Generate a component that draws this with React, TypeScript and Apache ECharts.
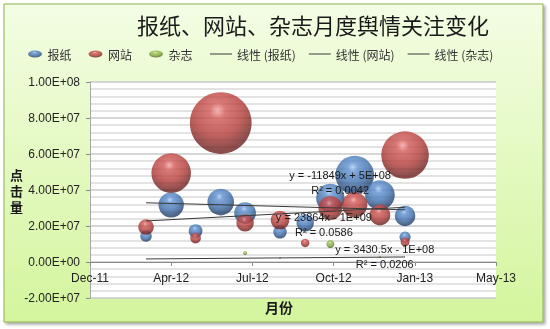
import React, { useEffect, useRef } from 'react';
import * as echarts from 'echarts';

const chartTitle = '报纸、网站、杂志月度舆情关注变化';
const seriesNames = ['报纸', '网站', '杂志'];
const trendNames = ['线性 (报纸)', '线性 (网站)', '线性 (杂志)'];
const xAxisName = '月份';
const yAxisName = '点击量';

// bubble dates and values (value also drives bubble width, as in the source)
const newspaperDates = ['2012-03-01', '2012-04-01', '2012-05-01', '2012-06-01', '2012-07-01', '2012-08-13', '2012-09-13', '2012-10-14', '2012-11-13', '2012-12-14', '2013-01-14', '2013-01-14'];
const newspaperValues = [14.4e6, 31.7e6, 17.2e6, 33.3e6, 27.2e6, 16.7e6, 21.7e6, 35.6e6, 48.3e6, 37.2e6, 25.6e6, 13.9e6];
const websiteDates = ['2012-03-01', '2012-04-01', '2012-05-01', '2012-06-01', '2012-07-01', '2012-08-13', '2012-09-13', '2012-10-14', '2012-11-13', '2012-12-14', '2013-01-14', '2013-01-14'];
const websiteValues = [19.4e6, 49.4e6, 13.3e6, 77.2e6, 21.7e6, 23.3e6, 10.6e6, 30.0e6, 31.7e6, 26.1e6, 59.4e6, 11.1e6];
const magazineDates = ['2012-07-01', '2012-08-13', '2012-10-14', '2012-12-14'];
const magazineValues = [5.0e6, 2.2e6, 10.0e6, 2.8e6];

// linear trend lines: values at first and last date
const trendDates = ['2012-03-01', '2013-01-14'];
const newspaperTrend = [32.9e6, 29.0e6];
const websiteTrend = [22.8e6, 30.4e6];
const magazineTrend = [1.7e6, 2.8e6];
const trendEquations = ['y = -11849x + 5E+08', 'y = 23864x - 1E+09', 'y = 3430.5x - 1E+08'];
const trendR2 = ['R² = 0.0042', 'R² = 0.0586', 'R² = 0.0206'];
const trendLabelDates = ['2012-10-26', '2012-10-06', '2012-12-20'];
const trendLabelValues = [44.2e6, 21.1e6, 3.06e6];

// axes (x in Excel date serials)
const xMin = 40900;
const xMax = 41400;
const xInterval = 100;
const yMin = -2e7;
const yMax = 1e8;
const yInterval = 2e7;
const monthNames = ['Jan', 'Feb', 'Mar', 'Apr', 'May', 'Jun', 'Jul', 'Aug', 'Sep', 'Oct', 'Nov', 'Dec'];

const EPOCH = Date.UTC(1899, 11, 30);
const toSerial = (s: string) => {
  const [y, m, d] = s.split('-').map(Number);
  return Math.round((Date.UTC(y, m - 1, d) - EPOCH) / 86400000);
};
const fmtMonth = (v: number) => {
  const dt = new Date(EPOCH + v * 86400000);
  return monthNames[dt.getUTCMonth()] + '-' + String(dt.getUTCFullYear() % 100).padStart(2, '0');
};
const sci = (v: number) => {
  if (v === 0) return '0.00E+00';
  const [m, e] = v.toExponential(2).split('e');
  const n = Number(e);
  return m + 'E' + (n < 0 ? '-' : '+') + String(Math.abs(n)).padStart(2, '0');
};

const ball = (hi: string, mid: string, base: string, dark: string) => ({
  type: 'radial', x: 0.45, y: 0.3, r: 0.72,
  colorStops: [
    { offset: 0, color: hi },
    { offset: 0.18, color: mid },
    { offset: 0.55, color: base },
    { offset: 0.88, color: dark },
    { offset: 1, color: dark },
  ],
});

const palette = [
  ball('#a9cdf5', '#5f90cf', '#3f70ad', '#223f69'),
  ball('#f3a3a1', '#d05855', '#b43c39', '#6e2220'),
  ball('#dcefa8', '#a2c35e', '#86a843', '#546f24'),
];

const toPoints = (dates: string[], values: number[]) =>
  dates.map((d, i) => [toSerial(d), values[i]]).sort((a, b) => b[1] - a[1]);

const GRID_TOP = 82;
const GRID_BOTTOM = 31;
const CHART_H = 329;

const App: React.FC = () => {
  const ref = useRef<HTMLDivElement>(null);
  useEffect(() => {
    if (!ref.current) return;
    const chart = echarts.init(ref.current, undefined, { renderer: 'svg' });
    const bubbleData = [
      toPoints(newspaperDates, newspaperValues),
      toPoints(websiteDates, websiteValues),
      toPoints(magazineDates, magazineValues),
    ];
    const trends = [newspaperTrend, websiteTrend, magazineTrend];
    const textFont = '"Liberation Sans", Arial, sans-serif';
    const cjkFont = '"Noto Sans CJK SC", "Liberation Sans", sans-serif';
    // place the x axis on y = 0 (Excel crosses at zero)
    const plotH = CHART_H - GRID_TOP - GRID_BOTTOM;
    const zeroOffset = -((0 - yMin) / (yMax - yMin)) * plotH;

    const bubbleSeries = seriesNames.map((name, i) => ({
      type: 'scatter',
      name,
      data: bubbleData[i],
      symbolSize: (v: number[]) => (v[1] / 1e6) * 0.8,
      itemStyle: { color: palette[i] },
      z: 3,
    }));

    const trendSeries = trendNames.map((name, i) => ({
      type: 'line',
      name,
      data: trendDates.map((d, j) => [toSerial(d), trends[i][j]]),
      symbol: 'none',
      color: '#3a3a3a',
      lineStyle: { color: '#3a3a3a', width: 1 },
      itemStyle: { color: '#3a3a3a' },
      z: 4,
      markPoint: {
        silent: true,
        symbol: 'circle',
        symbolSize: 0,
        data: [{ coord: [toSerial(trendLabelDates[i]), trendLabelValues[i]] }],
        label: {
          show: true,
          position: 'inside',
          formatter: trendEquations[i] + '\n' + trendR2[i],
          color: '#1a1a1a',
          fontSize: 11,
          lineHeight: 15,
          fontFamily: textFont,
          align: 'center',
        },
      },
    }));

    chart.setOption({
      animation: false,
      title: {
        text: chartTitle,
        left: 132,
        top: 8,
        textStyle: { fontSize: 22, fontWeight: 'normal', color: '#1a1a1a', fontFamily: cjkFont },
      },
      graphic: [
        {
          type: 'rect',
          z: -10,
          silent: true,
          shape: { x: 4, y: 4, width: 539, height: 318 },
          style: {
            fill: new echarts.graphic.LinearGradient(0, 0, 0, 1, [
              { offset: 0, color: '#f3fde4' },
              { offset: 1, color: '#d4f59d' },
            ]),
            stroke: '#8fb04e',
            lineWidth: 1,
            shadowBlur: 3,
            shadowOffsetX: 2,
            shadowOffsetY: 2,
            shadowColor: 'rgba(0,0,0,0.35)',
          },
        },
      ],
      legend: [
        {
          data: seriesNames,
          left: 23,
          top: 43,
          itemWidth: 15,
          itemHeight: 7,
          itemGap: 17,
          icon: 'path://M0,4a8,4 0 1,0 16,0a8,4 0 1,0 -16,0z',
          textStyle: { fontSize: 12, color: '#333', fontFamily: cjkFont },
          selectedMode: false,
        },
        {
          data: trendNames.map((n) => ({ name: n, icon: 'rect' })),
          left: 205,
          top: 43,
          itemWidth: 22,
          itemHeight: 1,
          itemGap: 13,
          textStyle: { fontSize: 12, color: '#333', fontFamily: cjkFont },
          selectedMode: false,
        },
      ],
      grid: {
        left: 90,
        right: 54,
        top: GRID_TOP,
        bottom: GRID_BOTTOM,
        show: true,
        backgroundColor: '#ffffff',
        borderWidth: 0,
        containLabel: false,
        outerBoundsMode: 'none',
      },
      xAxis: {
        type: 'value',
        position: 'bottom',
        offset: zeroOffset,
        min: xMin,
        max: xMax,
        interval: xInterval,
        name: xAxisName,
        nameLocation: 'middle',
        nameGap: 38,
        nameMoveOverlap: false,
        nameTextStyle: { fontSize: 14, fontWeight: 'bold', color: '#1a1a1a', fontFamily: cjkFont, padding: [0, 28, 0, 0] },
        axisLine: { onZero: false, lineStyle: { color: '#8a8a8a' } },
        axisTick: { show: true, length: 4, lineStyle: { color: '#8a8a8a' } },
        axisLabel: { formatter: (v: number) => fmtMonth(v), fontSize: 12, color: '#222', fontFamily: textFont, margin: 10, showMinLabel: true, showMaxLabel: true },
        splitLine: { show: false },
      },
      yAxis: {
        type: 'value',
        min: yMin,
        max: yMax,
        interval: yInterval,
        name: yAxisName.split('').join('\n'),
        nameLocation: 'middle',
        nameRotate: 0,
        nameGap: 67,
        nameMoveOverlap: false,
        nameTextStyle: { fontSize: 13, fontWeight: 'bold', color: '#1a1a1a', fontFamily: cjkFont, lineHeight: 16 },
        axisLine: { show: true, lineStyle: { color: '#a8a8a8' } },
        axisTick: { show: true, length: 4, lineStyle: { color: '#8a8a8a' } },
        axisLabel: { formatter: (v: number) => sci(v), fontSize: 12, color: '#222', fontFamily: textFont, margin: 10 },
        splitLine: { show: true, lineStyle: { color: '#c8c8c8', width: 1.5 } },
        minorTick: { show: false, splitNumber: 5 },
        minorSplitLine: { show: true, lineStyle: { color: '#dadada', width: 1.5 } },
      },
      series: [...bubbleSeries, ...trendSeries],
    });
    return () => chart.dispose();
  }, []);
  return (
    <div
      ref={ref}
      style={{ position: 'fixed', left: 0, top: 0, width: 550, height: 329 }}
    />
  );
};

export default App;
